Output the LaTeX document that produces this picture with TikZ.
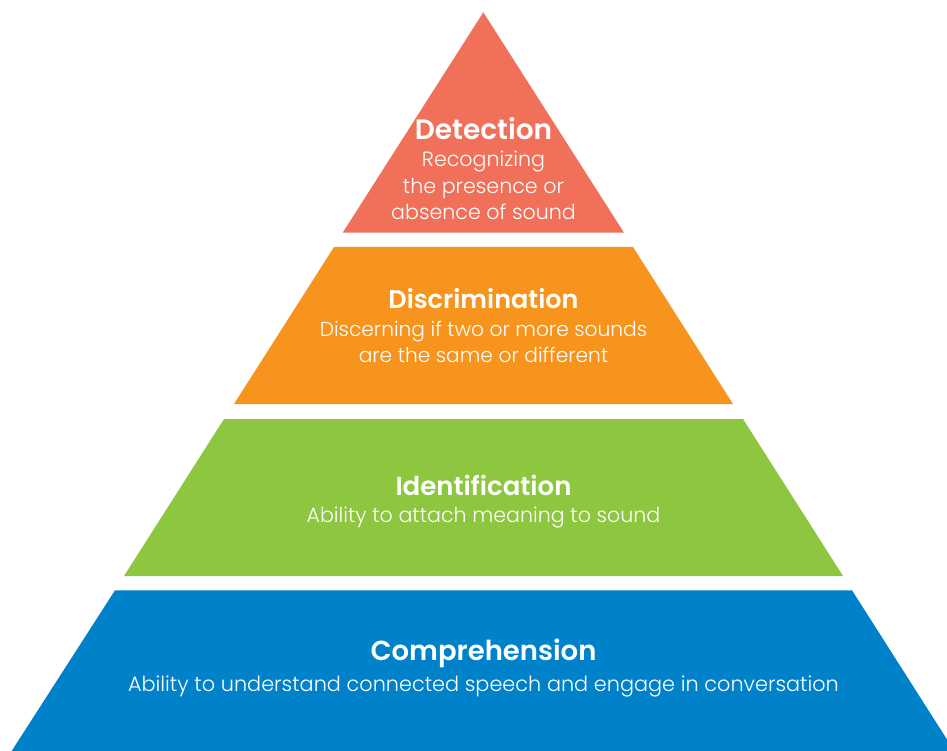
\documentclass[tikz,border=0pt]{standalone}
\usepackage{fontspec}
\setmainfont{Poppins}[UprightFont=* Light, BoldFont=* SemiBold]
\begin{document}
\begin{tikzpicture}[x=1pt,y=-1pt,
  ttl/.style={anchor=base,text=white,inner sep=0pt,font=\fontsize{26}{30}\selectfont\bfseries},
  sub/.style={anchor=base,text=white,inner sep=0pt,font=\fontsize{20.6}{24}\selectfont}]
\definecolor{cDet}{RGB}{240,112,89}
\definecolor{cDis}{RGB}{247,148,30}
\definecolor{cIde}{RGB}{141,198,63}
\definecolor{cCom}{RGB}{0,130,202}
\useasboundingbox (0,0) rectangle (947,751);
\clip (0,0) rectangle (947,751);
\fill[white] (0,0) rectangle (947,751);
% tiers
\fill[cDet] (483.3,12.3) -- (624,232.7) -- (342.7,232.7) -- cycle;
\fill[cDis] (334,247) -- (633,247) -- (733,404) -- (234,404) -- cycle;
\fill[cIde] (224,419) -- (743,419) -- (843,576) -- (124,576) -- cycle;
\fill[cCom] (115,590.3) -- (852,590.3) -- (955,752) -- (11,752) -- cycle;
% texts
\node[ttl,font=\fontsize{28}{30}\selectfont\bfseries] (detT) at (483.5,140) {Detection};
\node[sub] (detA) at (483.5,167) {Recognizing};
\node[sub] (detB) at (483.5,194) {the presence or};
\node[sub] (detC) at (483.5,220) {absence of sound};
\node[ttl,font=\fontsize{25.5}{30}\selectfont\bfseries] (disT) at (483.5,308) {Discrimination};
\node[sub,font=\fontsize{20.2}{24}\selectfont] (disA) at (483.5,336) {Discerning if two or more sounds};
\node[sub,font=\fontsize{20.2}{24}\selectfont] (disB) at (483.5,362) {are the same or different};
\node[ttl] (ideT) at (483.5,495) {Identification};
\node[sub] (ideA) at (483.5,522) {Ability to attach meaning to sound};
\node[ttl,font=\fontsize{27.5}{30}\selectfont\bfseries] (comT) at (483.5,660) {Comprehension};
\node[sub,font=\fontsize{20.8}{24}\selectfont] (comA) at (483.5,691) {Ability to understand connected speech and engage in conversation};
\end{tikzpicture}
\end{document}
